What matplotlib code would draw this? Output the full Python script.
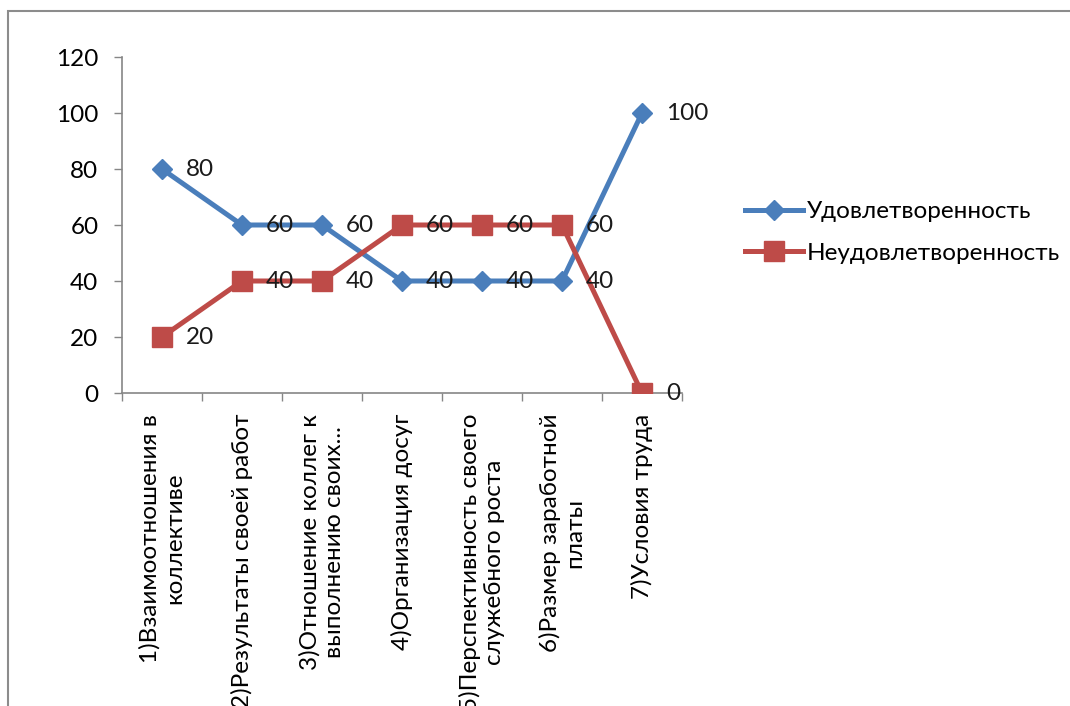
import matplotlib
matplotlib.use("Agg")
import matplotlib.pyplot as plt
from matplotlib.patches import Rectangle
import numpy as np

plt.rcParams['font.family'] = ['Lato', 'Open Sans', 'DejaVu Sans']

categories = [
    "1)Взаимоотношения в\nколлективе",
    "2)Результаты своей работ",
    "3)Отношение коллег к\nвыполнению своих...",
    "4)Организация досуг",
    "5)Перспективность своего\nслужебного роста",
    "6)Размер заработной\nплаты",
    "7)Условия труда",
]
satisfied = [80, 60, 60, 40, 40, 40, 100]
unsatisfied = [20, 40, 40, 60, 60, 60, 0]
series_names = ["Удовлетворенность", "Неудовлетворенность"]
y_ticks = [0, 20, 40, 60, 80, 100, 120]

BLUE = "#4A7EBB"
RED = "#BE4B48"
AXIS = "#868686"
FS = 17.5

W, H = 1070, 706
fig = plt.figure(figsize=(W / 100, H / 100), dpi=100)
ax = fig.add_axes([122 / W, 1 - 393 / H, (682 - 122) / W, (393 - 57) / H])

x = np.arange(len(categories)) + 0.5

ax.plot(x, satisfied, color=BLUE, lw=3.6, marker="D", ms=10,
        mfc=BLUE, mec=BLUE, label=series_names[0], zorder=3)
ax.plot(x, unsatisfied, color=RED, lw=3.6, marker="s", ms=15,
        mfc=RED, mec=RED, label=series_names[1], zorder=3)

for xi, v in zip(x, satisfied):
    ax.annotate(str(v), (xi, v), xytext=(24, 0), textcoords="offset pixels",
                ha="left", va="center", fontsize=FS, color="#1a1a1a", zorder=4,
                annotation_clip=False)
for xi, v in zip(x, unsatisfied):
    ax.annotate(str(v), (xi, v), xytext=(24, 0), textcoords="offset pixels",
                ha="left", va="center", fontsize=FS, color="#1a1a1a", zorder=4,
                annotation_clip=False)

ax.set_xlim(0, len(categories))
ax.set_ylim(0, 120)
ax.set_yticks(y_ticks)
ax.set_yticklabels([str(t) for t in y_ticks])

ax.set_xticks(np.arange(len(categories) + 1))
ax.set_xticklabels([])
ax.set_xticks(x, minor=True)
ax.set_xticklabels(categories, minor=True, rotation=90, ha="center", va="top",
                   multialignment="center", fontsize=FS, linespacing=1.2)

ax.tick_params(axis="x", which="major", length=6, width=1, color=AXIS, direction="out")
ax.tick_params(axis="x", which="minor", length=0, pad=15)
ax.tick_params(axis="y", length=6, width=1, color=AXIS, direction="out", pad=11,
               labelsize=FS)

for side in ("top", "right"):
    ax.spines[side].set_visible(False)
for side in ("left", "bottom"):
    ax.spines[side].set_color(AXIS)
    ax.spines[side].set_linewidth(1.2)

leg = fig.legend(loc="upper left", bbox_to_anchor=(745 / W, 1 - 201 / H),
                 frameon=False, fontsize=FS, handlelength=2.4, handletextpad=0.15,
                 labelspacing=0.85, borderpad=0, borderaxespad=0)

# chart border
fig.patches.append(Rectangle((8 / W, -0.1), 1.2, 1.1 - 11 / H,
                             transform=fig.transFigure, fill=False,
                             edgecolor="#8c8c8c", linewidth=1.5))

fig.savefig("out.png", dpi=100, facecolor="white")
